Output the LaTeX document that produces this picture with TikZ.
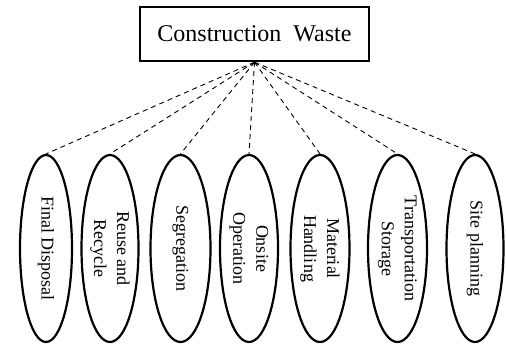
\documentclass[tikz,border=0pt]{standalone}
\usepackage{fontspec}
\setmainfont{Liberation Serif}
\usetikzlibrary{shapes.geometric}

\begin{document}
\begin{tikzpicture}[x=1pt, y=-1pt,
  topbox/.style={draw, line width=2.4pt, minimum width=229pt, minimum height=54pt, inner sep=0pt, font=\fontsize{24}{29}\selectfont},
  leaf/.style={draw, ellipse, line width=2.2pt, rotate=-90, minimum width=187pt, minimum height=57pt, inner sep=0pt, align=center, font=\fontsize{18}{23}\selectfont},
  link/.style={dashed, line width=0.9pt, dash pattern=on 5pt off 4pt}
]
\useasboundingbox (0,0) rectangle (506,350);
% root box at the top
\node[topbox] (waste) at (254.5,34) {Construction~ Waste};
% the seven ellipses, text read from top to bottom
\node[leaf, minimum height=52pt] (disp) at (46,248.5) {Final Disposal};
\node[leaf] (reuse) at (110,248.5) {Reuse and\\Recycle};
\node[leaf, minimum height=60pt] (segr) at (180.5,248.5) {Segregation};
\node[leaf, minimum height=58pt] (onsite) at (249,248.5) {Onsite\\Operation};
\node[leaf, minimum height=59pt] (mat) at (320,248.5) {Material\\Handling};
\node[leaf, minimum height=59pt] (trans) at (397.5,248.5) {Transportation\\Storage};
\node[leaf] (site) at (475,248.5) {Site planning};
% dashed links, all from the bottom of the box
\foreach \leafname in {disp,reuse,segr,onsite,mat,trans,site}
  \draw[link] (waste.south) -- (\leafname.west);
\end{tikzpicture}
\end{document}
